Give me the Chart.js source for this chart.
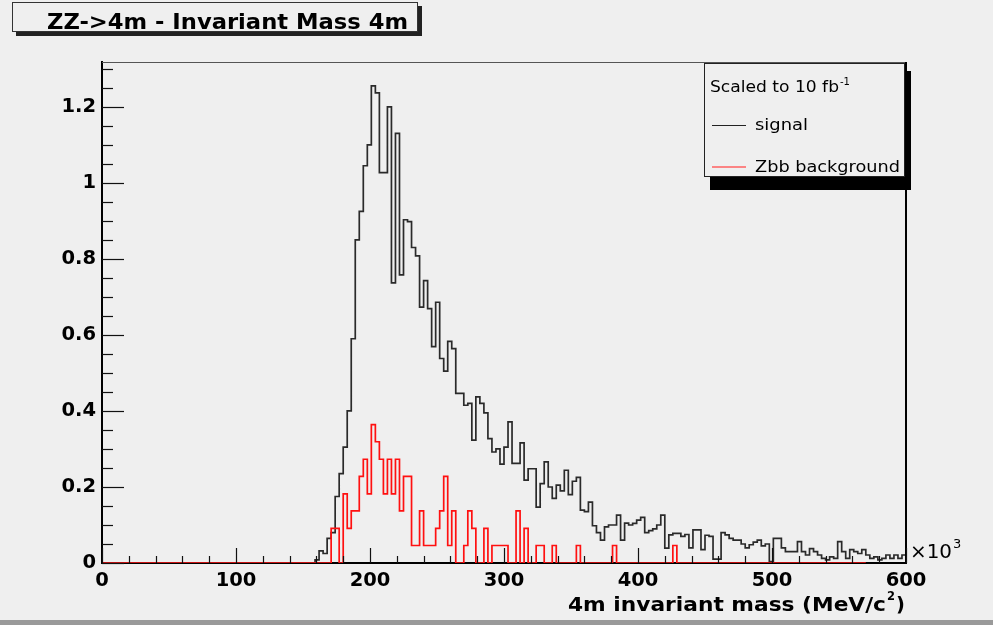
<!DOCTYPE html>
<html><head><meta charset="utf-8">
<script src="https://cdn.jsdelivr.net/npm/chart.js@4/dist/chart.umd.min.js"></script>
<style>html,body{margin:0;padding:0;background:#efefef;}canvas{display:block;}</style>
</head><body>
<canvas id="c" width="993" height="625"></canvas>
<script>
// ---- data ----
const xMin = 0, xMax = 600, nBins = 200;      // x axis in units of 10^3 MeV/c^2
const yMin = 0, yMax = 1.318;
const xTickValues = [0, 100, 200, 300, 400, 500, 600];
const xTickLabels = ['0', '100', '200', '300', '400', '500', '600'];
const yTickValues = [0, 0.2, 0.4, 0.6, 0.8, 1.0, 1.2];
const yTickLabels = ['0', '0.2', '0.4', '0.6', '0.8', '1', '1.2'];
const titleText = 'ZZ->4m - Invariant Mass 4m';
const xAxisTitle = '4m invariant mass (MeV/c';
const legendHeader = 'Scaled to 10 fb';
const seriesNames = ['signal', 'Zbb background'];

const signal = [
 0,0,0,0,0,0,0,0,0,0, 0,0,0,0,0,0,0,0,0,0,
 0,0,0,0,0,0,0,0,0,0, 0,0,0,0,0,0,0,0,0,0,
 0,0,0,0,0,0,0,0,0,0, 0,0,0.008,0.032,0.025,0.065,0.08,0.175,0.235,0.305,
 0.40,0.59,0.85,0.925,1.045,1.10,1.255,1.237,1.027,1.027,
 1.20,0.737,1.13,0.758,0.903,0.898,0.83,0.808,0.673,0.743,
 0.669,0.569,0.686,0.538,0.505,0.583,0.564,0.446,0.446,0.415,
 0.42,0.323,0.437,0.42,0.395,0.327,0.292,0.30,0.26,0.305,
 0.371,0.262,0.262,0.316,0.218,0.248,0.248,0.147,0.209,0.266,
 0.2,0.17,0.205,0.19,0.244,0.18,0.215,0.225,0.139,0.135,
 0.16,0.098,0.08,0.06,0.095,0.1,0.1,0.126,0.06,0.105,
 0.1,0.104,0.113,0.12,0.08,0.085,0.09,0.1,0.126,0.039,
 0.074,0.078,0.078,0.07,0.075,0.04,0.087,0.087,0.035,0.073,
 0.07,0.01,0.01,0.08,0.074,0.065,0.06,0.06,0.05,0.04,
 0.048,0.055,0.06,0.045,0.05,0.004,0.065,0.065,0.04,0.03,
 0.03,0.03,0.056,0.03,0.021,0.038,0.03,0.021,0.012,0.008,
 0.016,0.012,0.056,0.03,0.012,0.035,0.03,0.025,0.035,0.021,
 0.012,0.016,0.008,0.012,0.021,0.012,0.021,0.012,0.021,0.016
];
const zbb = [
 0,0,0,0,0,0,0,0,0,0, 0,0,0,0,0,0,0,0,0,0,
 0,0,0,0,0,0,0,0,0,0, 0,0,0,0,0,0,0,0,0,0,
 0,0,0,0,0,0,0,0,0,0, 0,0,0,0,0,0,0.091,0.091,0,0.182,
 0.091,0.137,0.137,0.228,0.273,0.182,0.364,0.319,0.273,0.182,
 0.273,0.182,0.273,0.137,0.228,0.228,0.046,0.046,0.137,0.046,
 0.046,0.046,0.091,0.137,0.228,0.046,0.137,0,0,0.046,
 0.137,0.091,0,0,0.091,0,0.046,0.046,0.046,0.046,
 0,0,0.137,0,0.091,0,0,0.046,0.046,0,
 0,0.046,0,0,0,0,0,0.046,0,0,
 0,0,0,0,0,0,0.046,0,0,0,
 0,0,0,0,0,0,0,0,0,0,
 0,0.046,0,0,0,0,0,0,0,0,
 0,0,0,0,0,0,0,0,0,0,
 0,0,0,0,0,0,0,0,0,0,
 0,0,0,0,0,0,0,0,0,0,
 0,0,0,0,0,0,0,0,0,0
];

// ---- build histogram step points from bin edges ----
const binW = (xMax - xMin) / nBins;
function stepPoints(vals) {
  const pts = [{ x: xMin, y: vals[0] }];
  vals.forEach((v, i) => pts.push({ x: xMin + (i + 1) * binW, y: v }));
  return pts;
}

const BG = '#efefef';
const boldFont = 'bold 19.5px "DejaVu Sans"';

function fitText(ctx, txt, x, y, font, width, align) {
  ctx.save();
  ctx.font = font;
  const w = ctx.measureText(txt).width;
  const sx = width ? width / w : 1;
  ctx.translate(x, y);
  ctx.scale(sx, 1);
  ctx.textAlign = align || 'left';
  ctx.textBaseline = 'alphabetic';
  ctx.fillText(txt, 0, 0);
  ctx.restore();
  return w * sx;
}

const rootPlugin = {
  id: 'rootStyle',
  beforeDraw(chart) {
    const c = chart.ctx;
    c.save();
    c.fillStyle = BG;
    c.fillRect(0, 0, chart.width, chart.height);
    c.restore();
  },
  afterDatasetsDraw(chart) {
    const c = chart.ctx, a = chart.chartArea;
    const xs = chart.scales.x, ys = chart.scales.y;
    c.save();
    c.lineWidth = 1;
    c.strokeStyle = '#555';
    c.beginPath(); c.moveTo(a.left, a.top + 0.5); c.lineTo(a.right, a.top + 0.5); c.stroke();
    c.strokeStyle = '#000';
    c.lineWidth = 2;
    c.beginPath(); c.moveTo(a.right, a.top); c.lineTo(a.right, a.bottom); c.stroke();
    c.lineWidth = 1.2;
    c.strokeStyle = '#111';
    for (let v = xMin; v <= xMax + 1e-9; v += 20) {
      const px = Math.round(xs.getPixelForValue(v)) + 0.5;
      const len = (Math.abs(v % 100) < 1e-9) ? 15 : 7;
      c.beginPath(); c.moveTo(px, a.bottom); c.lineTo(px, a.bottom - len); c.stroke();
    }
    for (let k = 0; k * 0.05 <= yMax; k++) {
      const v = k * 0.05;
      const py = Math.round(ys.getPixelForValue(v)) + 0.5;
      const len = (k % 4 === 0) ? 22 : 11;
      c.beginPath(); c.moveTo(a.left, py); c.lineTo(a.left + len, py); c.stroke();
    }
    c.restore();
  },
  afterDraw(chart) {
    const c = chart.ctx;
    c.save();
    c.fillStyle = '#222';
    c.fillRect(16, 6, 406, 30);
    c.fillStyle = BG;
    c.fillRect(12, 2, 406, 30);
    c.strokeStyle = '#333'; c.lineWidth = 1;
    c.strokeRect(12.5, 2.5, 405, 29);
    c.fillStyle = '#000';
    fitText(c, titleText, 47, 29, 'bold 22px "DejaVu Sans"', 361, 'left');

    const lx = 704, ly = 63, lw = 201, lh = 114;
    c.fillStyle = '#000';
    c.fillRect(lx + 6, ly + 8, lw, lh + 5);
    c.fillStyle = BG;
    c.fillRect(lx, ly, lw, lh);
    c.strokeStyle = '#222'; c.lineWidth = 1;
    c.strokeRect(lx + 0.5, ly + 0.5, lw - 1, lh - 1);
    c.fillStyle = '#000';
    const hw = fitText(c, legendHeader, 710, 92, '16px "DejaVu Sans"', 129, 'left');
    fitText(c, '-1', 710 + hw + 1, 85, '10px "DejaVu Sans"', 10, 'left');
    c.strokeStyle = '#222'; c.lineWidth = 1;
    c.beginPath(); c.moveTo(712, 125.5); c.lineTo(746, 125.5); c.stroke();
    fitText(c, seriesNames[0], 755, 130, '16px "DejaVu Sans"', 53, 'left');
    c.strokeStyle = '#ff6060'; c.lineWidth = 1.5;
    c.beginPath(); c.moveTo(712, 167); c.lineTo(746, 167); c.stroke();
    c.fillStyle = '#000';
    fitText(c, seriesNames[1], 755, 172, '16px "DejaVu Sans"', 145, 'left');

    const tw = fitText(c, xAxisTitle, 568, 611, boldFont, 318, 'left');
    fitText(c, '2', 568 + tw + 1, 600, 'bold 12px "DejaVu Sans"', 8, 'left');
    fitText(c, ')', 568 + tw + 10, 611, boldFont, 0, 'left');

    const mw = fitText(c, '\u00d710', 910, 558, '19px "DejaVu Sans"', 42, 'left');
    fitText(c, '3', 910 + mw + 1, 548, '13px "DejaVu Sans"', 0, 'left');

    c.fillStyle = '#9a9a9a';
    c.fillRect(0, 620, chart.width, 5);
    c.restore();
  }
};

new Chart(document.getElementById('c'), {
  type: 'line',
  data: {
    datasets: [
      { label: seriesNames[1], data: stepPoints(zbb), borderColor: '#ff1010', borderWidth: 1.7,
        stepped: 'before', pointRadius: 0, fill: false, order: 0 },
      { label: seriesNames[0], data: stepPoints(signal), borderColor: '#2a2a2a', borderWidth: 1.7,
        stepped: 'before', pointRadius: 0, fill: false, order: 1 }
    ]
  },
  options: {
    responsive: false,
    animation: false,
    devicePixelRatio: 1,
    layout: { padding: { top: 62, right: 87, left: 0, bottom: 0 } },
    plugins: { legend: { display: false }, title: { display: false }, tooltip: { enabled: false } },
    scales: {
      x: {
        type: 'linear', min: xMin, max: xMax,
        afterFit: s => { s.height = 62; },
        afterBuildTicks: s => { s.ticks = xTickValues.map(v => ({ value: v })); },
        ticks: { callback: (v, i) => xTickLabels[i], color: '#000', padding: 6, maxRotation: 0, autoSkip: false,
                 font: { family: 'DejaVu Sans', weight: 'bold', size: 19.5 } },
        grid: { display: false, drawTicks: false },
        border: { display: true, color: '#000', width: 2 }
      },
      y: {
        type: 'linear', min: yMin, max: yMax,
        afterFit: s => { s.width = 102; },
        afterBuildTicks: s => { s.ticks = yTickValues.map(v => ({ value: v })); },
        ticks: { callback: (v, i) => yTickLabels[i], color: '#000', padding: 6, autoSkip: false,
                 font: { family: 'DejaVu Sans', weight: 'bold', size: 19.5 } },
        grid: { display: false, drawTicks: false },
        border: { display: true, color: '#000', width: 2 }
      }
    }
  },
  plugins: [rootPlugin]
});
</script>
</body></html>
